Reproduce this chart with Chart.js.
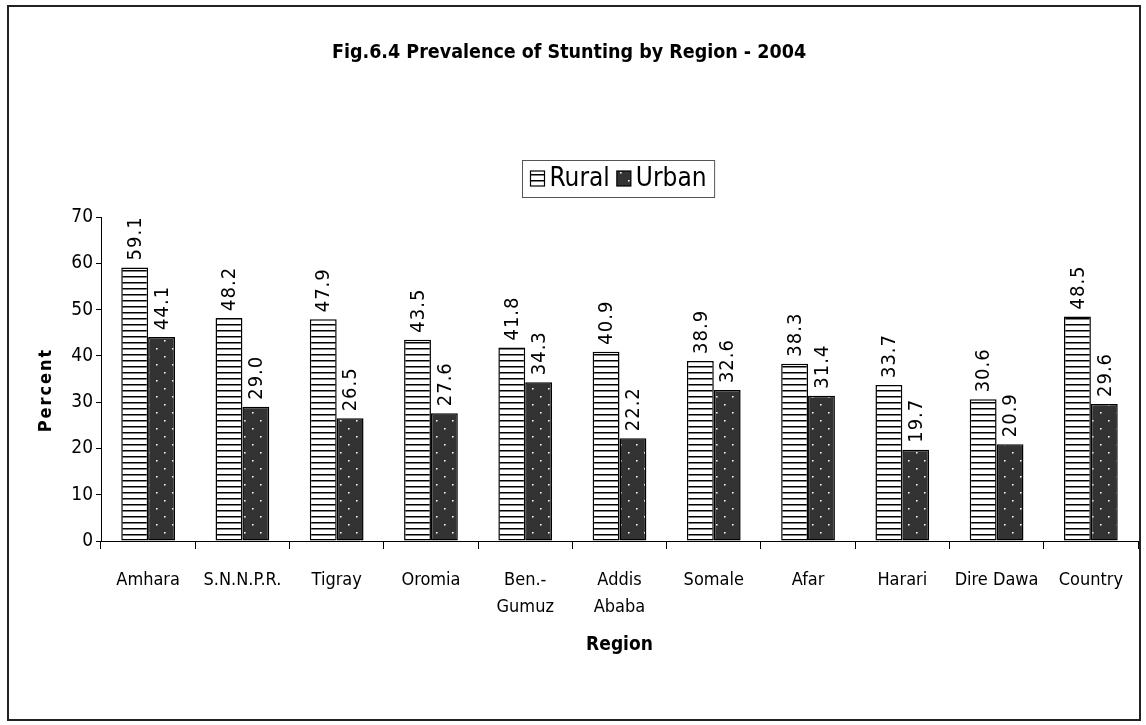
<!DOCTYPE html>
<html>
<head>
<meta charset="utf-8">
<script src="https://cdn.jsdelivr.net/npm/chart.js@4/dist/chart.umd.min.js"></script>
<style>
html, body { margin: 0; padding: 0; background: #fff; }
#wrap { width: 1146px; height: 725px; }
</style>
</head>
<body>
<div id="wrap"><canvas id="chart" width="1146" height="725"></canvas></div>
<script>
// data
const regions = ['Amhara', 'S.N.N.P.R.', 'Tigray', 'Oromia', ['Ben.-', 'Gumuz'], ['Addis', 'Ababa'], 'Somale', 'Afar', 'Harari', 'Dire Dawa', 'Country'];
const rural = [59.1, 48.2, 47.9, 43.5, 41.8, 40.9, 38.9, 38.3, 33.7, 30.6, 48.5];
const urban = [44.1, 29.0, 26.5, 27.6, 34.3, 22.2, 32.6, 31.4, 19.7, 20.9, 29.6];
const yTicks = [0, 10, 20, 30, 40, 50, 60, 70];

const FONT = '"DejaVu Sans Condensed", "Liberation Sans", sans-serif';

// horizontal stripes on white
function stripes() {
    const c = document.createElement('canvas');
    c.width = 8; c.height = 6;
    const g = c.getContext('2d');
    g.fillStyle = '#fff';
    g.fillRect(0, 0, 8, 6);
    g.fillStyle = '#000';
    g.fillRect(0, 0, 8, 1.5);
    return g.createPattern(c, 'repeat');
}

// dark grey with sparse light dots
function dots() {
    const c = document.createElement('canvas');
    c.width = 16; c.height = 16;
    const g = c.getContext('2d');
    g.fillStyle = '#333';
    g.fillRect(0, 0, 16, 16);
    g.fillStyle = '#eee';
    g.fillRect(4, 4, 1.6, 1.6);
    g.fillRect(12, 12, 1.6, 1.6);
    return g.createPattern(c, 'repeat');
}

const frame = {
    id: 'frame',
    beforeDraw(chart) {
        const ctx = chart.ctx;
        ctx.save();
        ctx.fillStyle = '#fff';
        ctx.fillRect(0, 0, chart.width, chart.height);
        ctx.strokeStyle = '#222';
        ctx.lineWidth = 2;
        ctx.strokeRect(8, 6, 1132, 714);
        ctx.restore();
    }
};

const valueLabels = {
    id: 'valueLabels',
    afterDatasetsDraw(chart) {
        const ctx = chart.ctx;
        ctx.save();
        ctx.font = '20px ' + FONT;
        ctx.letterSpacing = '1px';
        ctx.fillStyle = '#000';
        ctx.textAlign = 'left';
        ctx.textBaseline = 'middle';
        chart.data.datasets.forEach((ds, i) => {
            chart.getDatasetMeta(i).data.forEach((bar, j) => {
                ctx.save();
                ctx.translate(bar.x, bar.y - 7);
                ctx.rotate(-Math.PI / 2);
                ctx.fillText(ds.data[j].toFixed(1), 0, 1);
                ctx.restore();
            });
        });
        ctx.restore();
    }
};

// boxed legend and spaced y title
const extras = {
    id: 'extras',
    afterDraw(chart) {
        const ctx = chart.ctx;
        ctx.save();
        // y title
        ctx.font = 'bold 18px ' + FONT;
        ctx.letterSpacing = '2px';
        ctx.fillStyle = '#000';
        ctx.textAlign = 'center';
        ctx.textBaseline = 'middle';
        ctx.translate(46, 390);
        ctx.rotate(-Math.PI / 2);
        ctx.fillText('Percent', 0, 0);
        ctx.restore();

        ctx.save();
        ctx.font = '26px ' + FONT;
        ctx.textBaseline = 'middle';
        ctx.textAlign = 'left';
        const sw = 14, sh = 15, gap = 5, between = 7, pad = 8;
        const items = chart.data.datasets.map(ds => ({ label: ds.label, fill: ds.backgroundColor, w: ctx.measureText(ds.label).width }));
        let total = pad * 2;
        items.forEach((it, k) => { total += sw + gap + it.w + (k ? between : 0); });
        const cx = 618.5, cy = 178.5, h = 37;
        let x = Math.round(cx - total / 2) + 0.5;
        const top = Math.round(cy - h / 2) + 0.5;
        ctx.strokeStyle = '#555';
        ctx.lineWidth = 1;
        ctx.strokeRect(x, top, total, h);
        x += pad;
        items.forEach(it => {
            ctx.fillStyle = it.fill;
            ctx.fillRect(x, cy - sh / 2, sw, sh);
            ctx.strokeStyle = '#000';
            ctx.lineWidth = 1.2;
            ctx.strokeRect(x, cy - sh / 2, sw, sh);
            x += sw + gap;
            ctx.fillStyle = '#000';
            ctx.fillText(it.label, x, cy + 1);
            x += it.w + between;
        });
        ctx.restore();
    }
};

new Chart(document.getElementById('chart'), {
    type: 'bar',
    data: {
        labels: regions,
        datasets: [{
            label: 'Rural',
            data: rural,
            backgroundColor: stripes(),
            borderColor: '#000',
            borderWidth: 1.5,
            borderSkipped: false
        }, {
            label: 'Urban',
            data: urban,
            backgroundColor: dots(),
            borderColor: '#000',
            borderWidth: 1.5,
            borderSkipped: false
        }]
    },
    options: {
        responsive: false,
        animation: false,
        layout: { padding: { left: 0, right: 8, top: 0, bottom: 0 } },
        datasets: { bar: { barPercentage: 1, categoryPercentage: 0.57 } },
        plugins: {
            legend: { display: false },
            tooltip: { enabled: false },
            title: {
                display: true,
                text: 'Fig.6.4 Prevalence of Stunting by Region - 2004',
                color: '#000',
                font: { family: FONT, size: 19.5, weight: 'bold', lineHeight: 1.2 },
                padding: { top: 41, bottom: 152.6 }
            }
        },
        scales: {
            x: {
                offset: true,
                grid: { display: true, offset: true, drawOnChartArea: false, drawTicks: true, tickLength: 8, color: '#000', lineWidth: 1 },
                border: { display: true, color: '#000', width: 1 },
                ticks: { color: '#000', font: { family: FONT, size: 18, lineHeight: 1.5 }, padding: 18, maxRotation: 0, autoSkip: false },
                title: {
                    display: true,
                    text: 'Region',
                    color: '#000',
                    font: { family: FONT, size: 19, weight: 'bold', lineHeight: 1.2 },
                    padding: { top: 0, bottom: 69 }
                },
                afterFit: s => { s.height = 184; }
            },
            y: {
                min: 0,
                max: 70,
                afterBuildTicks: s => { s.ticks = yTicks.map(v => ({ value: v })); },
                grid: { display: true, drawOnChartArea: false, drawTicks: true, tickLength: 5, color: '#000' },
                border: { display: true, color: '#000', width: 1 },
                ticks: { color: '#000', font: { family: FONT, size: 19 }, padding: 3 },
                afterFit: s => { s.width = 101; }
            }
        }
    },
    plugins: [frame, valueLabels, extras]
});
</script>
</body>
</html>
